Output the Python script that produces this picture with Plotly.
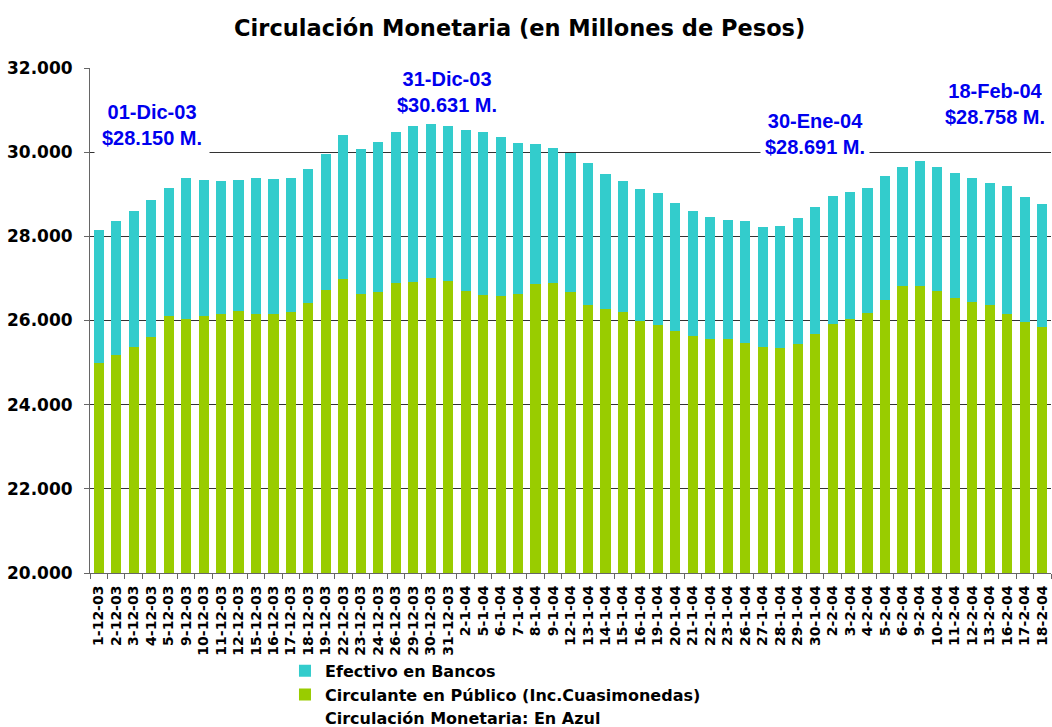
import plotly.graph_objects as go

fechas = [
    "1-12-03", "2-12-03", "3-12-03", "4-12-03", "5-12-03", "9-12-03", "10-12-03", "11-12-03",
    "12-12-03", "15-12-03", "16-12-03", "17-12-03", "18-12-03", "19-12-03", "22-12-03", "23-12-03",
    "24-12-03", "26-12-03", "29-12-03", "30-12-03", "31-12-03",
    "2-1-04", "5-1-04", "6-1-04", "7-1-04", "8-1-04", "9-1-04", "12-1-04", "13-1-04", "14-1-04",
    "15-1-04", "16-1-04", "19-1-04", "20-1-04", "21-1-04", "22-1-04", "23-1-04", "26-1-04",
    "27-1-04", "28-1-04", "29-1-04", "30-1-04",
    "2-2-04", "3-2-04", "4-2-04", "5-2-04", "6-2-04", "9-2-04", "10-2-04", "11-2-04", "12-2-04",
    "13-2-04", "16-2-04", "17-2-04", "18-2-04",
]

circulacion_total = [
    28150, 28356, 28593, 28854, 29138, 29376, 29328, 29304, 29328, 29376, 29352, 29376, 29589,
    29945, 30419, 30087, 30253, 30490, 30615, 30680, 30631,
    30538, 30490, 30372, 30229, 30206, 30111, 29992, 29731, 29470, 29304, 29115, 29020, 28783,
    28593, 28451, 28380, 28356, 28214, 28237, 28427, 28691,
    28949, 29044, 29138, 29423, 29636, 29779, 29636, 29494, 29376, 29257, 29186, 28925, 28758,
]

circulante_publico = [
    25000, 25170, 25368, 25605, 26111, 26032, 26111, 26158, 26221, 26158, 26158, 26206, 26411,
    26727, 26980, 26633, 26680, 26885, 26917, 27012, 26933,
    26696, 26601, 26585, 26633, 26870, 26885, 26680, 26364, 26269, 26206, 25984, 25889, 25747,
    25636, 25557, 25557, 25463, 25368, 25352, 25447, 25684,
    25921, 26032, 26174, 26490, 26822, 26822, 26696, 26538, 26443, 26364, 26158, 25968, 25842,
]

efectivo_bancos = [t - c for t, c in zip(circulacion_total, circulante_publico)]

y_ticks = [20000, 22000, 24000, 26000, 28000, 30000, 32000]

notas = [
    ("01-Dic-03<br>$28.150 M.", 0.0645, 0.888, 7),
    ("31-Dic-03<br>$30.631 M.", 0.3715, 0.9525, 4),
    ("30-Ene-04<br>$28.691 M.", 0.7544, 0.8693, 4),
    ("18-Feb-04<br>$28.758 M.", 0.9417, 0.9287, 4),
]

WIDE = "DejaVu Sans, sans-serif"
ARIAL = "Liberation Sans, Arial, sans-serif"

fig = go.Figure()
fig.add_trace(go.Bar(
    x=fechas, y=circulante_publico, name="Circulante en Público (Inc.Cuasimonedas)",
    marker=dict(color="#99CC00", line=dict(width=0)),
))
fig.add_trace(go.Bar(
    x=fechas, y=efectivo_bancos, name="Efectivo en Bancos",
    marker=dict(color="#33CCCC", line=dict(width=0)),
))

for texto, px, py, pad in notas:
    fig.add_annotation(
        text=texto, x=px, y=py, xref="paper", yref="paper", showarrow=False,
        xanchor="center", yanchor="middle",
        font=dict(family=ARIAL, size=20, color="#0000EE", weight="bold"),
        bgcolor="white", borderpad=pad, align="center",
    )

fig.add_annotation(
    text="Circulación Monetaria: En Azul", xref="paper", yref="paper",
    x=0.2425, y=-0.288, xanchor="left", yanchor="middle", showarrow=False,
    font=dict(family=WIDE, size=16, color="black", weight="bold"),
)

fig.update_layout(
    width=1052, height=727,
    barmode="stack", bargap=0.42,
    paper_bgcolor="white", plot_bgcolor="white",
    separators=",.",
    margin=dict(l=90, r=1, t=68, b=154),
    title=dict(
        text="<b>Circulación Monetaria (en Millones de Pesos)</b>",
        x=0.494, xanchor="center", y=0.9615, yanchor="middle",
        font=dict(family=WIDE, size=22.5, color="black"),
    ),
    font=dict(family=WIDE, color="black"),
    showlegend=True,
    legend=dict(
        x=0.2029, y=-0.16, xanchor="left", yanchor="top",
        orientation="v", traceorder="reversed",
        font=dict(family=WIDE, size=16, color="black", weight="bold"),
        bgcolor="rgba(0,0,0,0)", tracegroupgap=0,
    ),
    xaxis=dict(
        type="category", tickangle=-90, automargin=False,
        tickfont=dict(family=WIDE, size=14, color="black", weight="bold"),
        showline=True, linecolor="#666", linewidth=1,
        ticks="outside", ticklen=5, tickcolor="#666", tickson="boundaries",
        ticklabelstandoff=6,
        showgrid=False,
    ),
    yaxis=dict(
        range=[20000, 32000], tickvals=y_ticks, tickformat=",.0f", automargin=False,
        tickfont=dict(family=WIDE, size=17, color="black", weight="bold"),
        showline=True, linecolor="#666", linewidth=1,
        ticks="outside", ticklen=5, tickcolor="#666", ticklabelstandoff=8,
        showgrid=True, gridcolor="#333", gridwidth=1,
        zeroline=False,
    ),
)

fig.write_html(
    "out.html",
    config={"displayModeBar": False},
    post_script="document.body.style.margin='0';",
)
